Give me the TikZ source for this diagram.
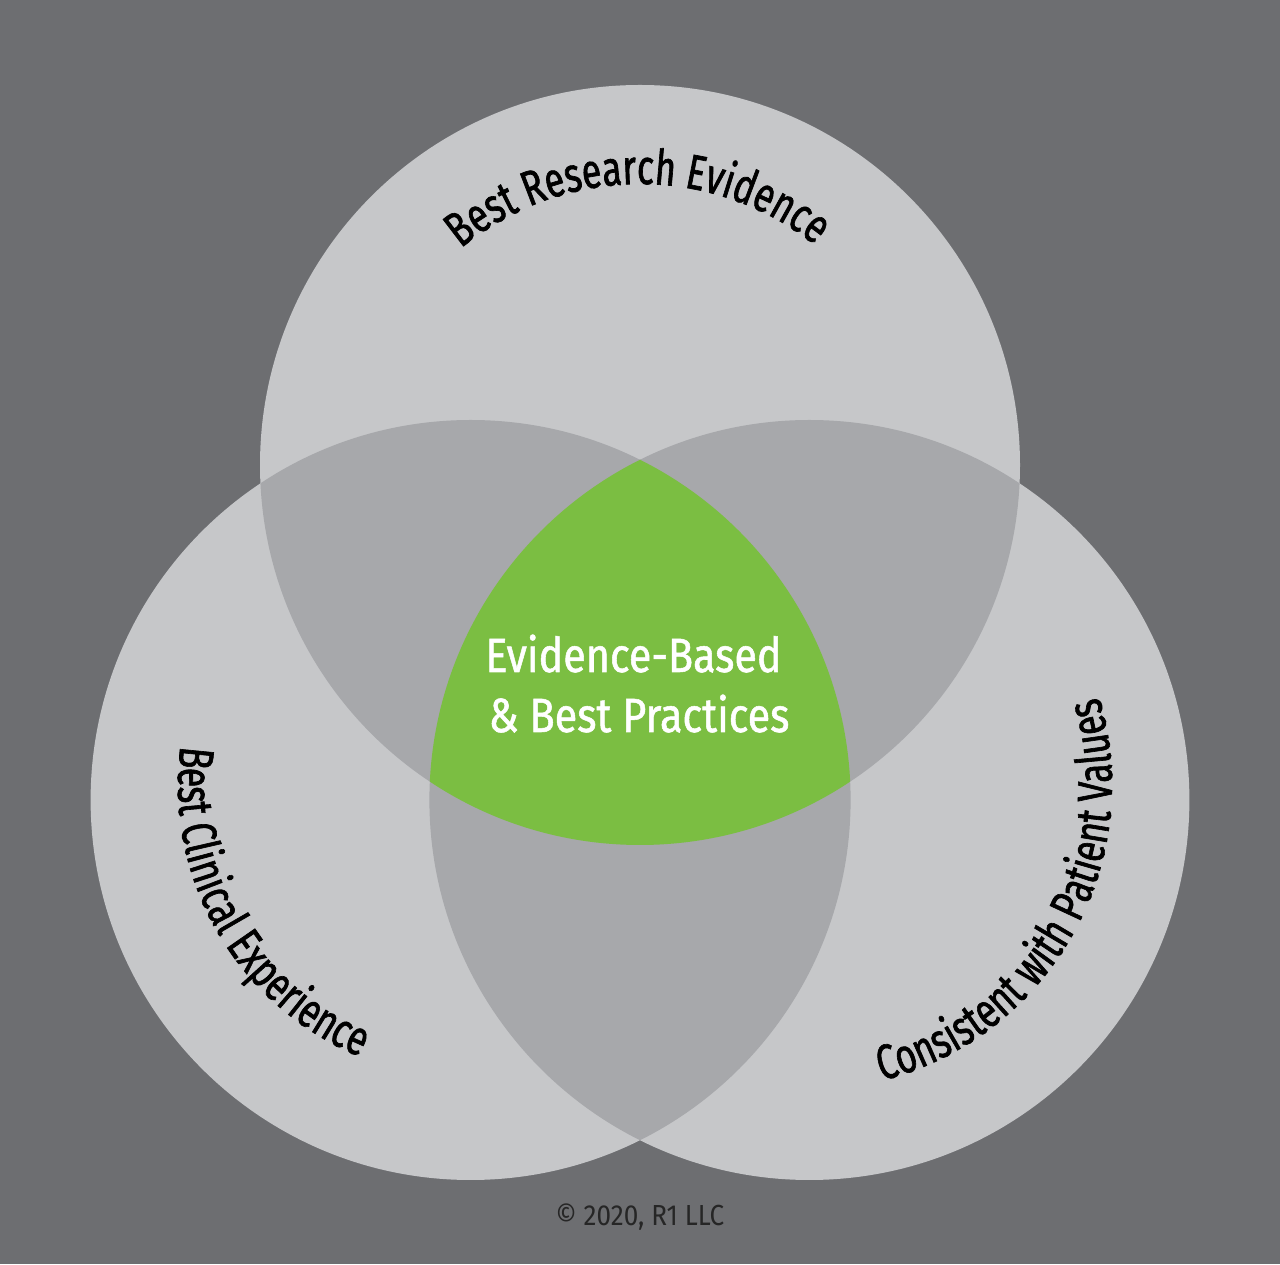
\documentclass[tikz,border=0pt]{standalone}
\usepackage{fontspec}
\usetikzlibrary{decorations.text}
\newfontfamily\curvefont[FakeStretch=0.73,FakeBold=1.3]{Fira Sans}
\newfontfamily\centerfont[FakeStretch=0.86,FakeBold=1.1]{Fira Sans}
\newfontfamily\copyfont[FakeStretch=0.9]{Fira Sans}
\definecolor{bggray}{HTML}{6D6E71}
\definecolor{lightgray}{HTML}{C6C7C9}
\definecolor{midgray}{HTML}{A7A8AB}
\definecolor{evgreen}{HTML}{7BBE42}
\definecolor{copygray}{HTML}{262626}
\tikzset{
  curvetext/.style={decorate, decoration={text along path, text align=center, text color=black}},
  centertext/.style={anchor=base, text=white, inner sep=0pt, font=\centerfont\fontsize{24}{24}\selectfont},
}
\begin{document}
\begin{tikzpicture}[x=0.5pt,y=0.5pt]
\useasboundingbox (0,0) rectangle (1280,1264);
\fill[bggray] (0,0) rectangle (1280,1264);
\coordinate (T) at (640,799);
\coordinate (L) at (470.6,464);
\coordinate (R) at (809.4,464);
\def\rad{380}
% base circles
\fill[lightgray] (T) circle[radius=\rad];
\fill[lightgray] (L) circle[radius=\rad];
\fill[lightgray] (R) circle[radius=\rad];
% pairwise overlaps
\begin{scope}
  \clip (T) circle[radius=\rad];
  \fill[midgray] (L) circle[radius=\rad];
  \fill[midgray] (R) circle[radius=\rad];
\end{scope}
\begin{scope}
  \clip (L) circle[radius=\rad];
  \fill[midgray] (R) circle[radius=\rad];
\end{scope}
% triple overlap
\begin{scope}
  \clip (T) circle[radius=\rad];
  \clip (L) circle[radius=\rad];
  \fill[evgreen] (R) circle[radius=\rad];
\end{scope}
% curved labels
\path[curvetext, decoration={text={|\curvefont\fontsize{24.5}{24.5}\selectfont|Best Research Evidence}}]
  (T) ++(140.5:281) arc[start angle=140.5, end angle=40.5, radius=281];
\path[curvetext, decoration={text={|\curvefont\fontsize{24.5}{24.5}\selectfont|Best Clinical Experience}}]
  (472,479) ++(160:294) arc[start angle=160, end angle=260, radius=294];
\path[curvetext, decoration={text={|\curvefont\fontsize{24.5}{24.5}\selectfont|Consistent with Patient Values}}]
  (807,479) ++(-79.5:305) arc[start angle=-79.5, end angle=20.5, radius=305];
% center text
\node[centertext] (c1) at (633.5,592) {Evidence-Based};
\node[centertext] (c2) at (639,532) {\& Best Practices};
% copyright
\node[anchor=base, text=copygray, inner sep=0pt, font=\copyfont\fontsize{14.5}{14.5}\selectfont] (copy) at (640,39) {© 2020, R1 LLC};
\end{tikzpicture}
\end{document}
